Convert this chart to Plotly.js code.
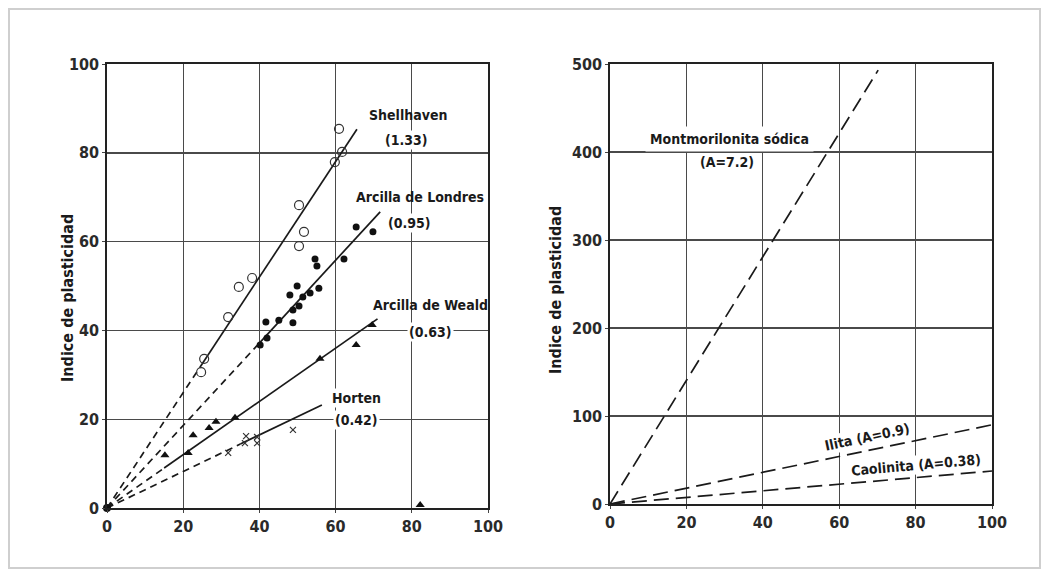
<!DOCTYPE html>
<html>
<head>
<meta charset="utf-8">
<script src="https://cdn.plot.ly/plotly-3.0.1.min.js"></script>
<style>html,body{margin:0;padding:0;background:#fff;}#chart{width:1049px;height:572px;}</style>
</head>
<body>
<div id="chart"></div>
<script>
// ---- Left panel data (fracción arcillosa %, índice de plasticidad) ----
const shellX = [60.9, 61.7, 59.8, 50.4, 51.7, 50.4, 38.1, 34.6, 31.8, 25.5, 24.7];
const shellY = [85.4, 80.2, 77.9, 68.2, 62.2, 59.0, 51.8, 49.8, 43.0, 33.6, 30.6];
const londX = [65.4, 69.8, 62.2, 54.6, 55.1, 49.9, 55.6, 48.0, 53.3, 51.4, 50.4, 48.8, 45.1, 41.7, 48.8, 42.0, 40.2];
const londY = [63.3, 62.2, 56.1, 56.1, 54.5, 50.0, 49.5, 48.0, 48.4, 47.5, 45.5, 44.6, 42.3, 41.9, 41.7, 38.3, 36.7];
const wealdX = [69.6, 65.4, 55.9, 33.6, 28.6, 26.8, 22.6, 21.3, 15.2, 82.2];
const wealdY = [41.2, 36.7, 33.6, 20.3, 19.4, 18.0, 16.4, 12.4, 11.9, 0.7];
const hortX = [48.8, 36.5, 39.4, 36.2, 39.4, 31.8];
const hortY = [17.6, 16.2, 16.0, 14.6, 14.6, 12.4];
const originX = [0];
const originY = [0];

// line segments (dashed part from origin, solid part through data)
const shellDashX = [0, 24.4], shellDashY = [0, 31.7];
const shellSolX = [24.4, 65.6], shellSolY = [31.7, 85.3];
const londDashX = [0, 39.5], londDashY = [0, 36.7];
const londSolX = [39.5, 71.7], londSolY = [36.7, 66.7];
const wealdDashX = [0, 15], wealdDashY = [0, 9.0];
const wealdSolX = [15, 71], wealdSolY = [9.0, 42.6];
const hortDashX = [0, 35], hortDashY = [0, 14.4];
const hortSolX = [35, 56.4], hortSolY = [14.4, 23.2];

// ---- Right panel lines ----
const montX = [0, 70.2], montY = [0, 493];
const iliX = [0, 100], iliY = [0, 90];
const caoX = [0, 100], caoY = [0, 37.5];

const xTicks = [0, 20, 40, 60, 80, 100];
const yTicksL = [0, 20, 40, 60, 80, 100];
const yTicksR = [0, 100, 200, 300, 400, 500];

const LC = '#1a1a1a';
const FONT = 'DejaVu Sans Condensed, Liberation Sans Narrow, Liberation Sans, sans-serif';

function seg(x, y, dash, xa, ya) {
  return {x: x, y: y, type: 'scatter', mode: 'lines', xaxis: xa, yaxis: ya,
    line: {color: LC, width: 1.7, dash: dash}, hoverinfo: 'skip', showlegend: false};
}
const dashL = '7px,5px';
const dashR = '15px,7px';

const traces = [
  seg(shellDashX, shellDashY, dashL, 'x', 'y'),
  seg(shellSolX, shellSolY, 'solid', 'x', 'y'),
  seg(londDashX, londDashY, dashL, 'x', 'y'),
  seg(londSolX, londSolY, 'solid', 'x', 'y'),
  seg(wealdDashX, wealdDashY, dashL, 'x', 'y'),
  seg(wealdSolX, wealdSolY, 'solid', 'x', 'y'),
  seg(hortDashX, hortDashY, dashL, 'x', 'y'),
  seg(hortSolX, hortSolY, 'solid', 'x', 'y'),
  {x: shellX, y: shellY, type: 'scatter', mode: 'markers', xaxis: 'x', yaxis: 'y', showlegend: false,
    marker: {symbol: 'circle-open', size: 9, color: '#333', line: {width: 1.2, color: '#333'}}},
  {x: londX, y: londY, type: 'scatter', mode: 'markers', xaxis: 'x', yaxis: 'y', showlegend: false,
    marker: {symbol: 'circle', size: 7, color: '#111'}},
  {x: wealdX, y: wealdY, type: 'scatter', mode: 'markers', xaxis: 'x', yaxis: 'y', showlegend: false,
    marker: {symbol: 'triangle-up', size: 8, color: '#111'}},
  {x: hortX, y: hortY, type: 'scatter', mode: 'markers', xaxis: 'x', yaxis: 'y', showlegend: false,
    marker: {symbol: 'x-thin', size: 6, color: '#333', line: {width: 1.2, color: '#333'}}},
  {x: originX, y: originY, type: 'scatter', mode: 'markers', xaxis: 'x', yaxis: 'y', showlegend: false, cliponaxis: false,
    marker: {symbol: 'circle', size: 8, color: '#111'}},
  seg(montX, montY, dashR, 'x2', 'y2'),
  seg(iliX, iliY, dashR, 'x2', 'y2'),
  seg(caoX, caoY, dashR, 'x2', 'y2')
];

const W = 1049, H = 572;
const px = v => v / W, py = v => 1 - v / H;

function axisBase(ticks) {
  return {
    tickmode: 'array', tickvals: ticks, ticktext: ticks.map(String),
    showgrid: true, gridcolor: '#4a4a4a', gridwidth: 1.4,
    zeroline: false, showline: true, linecolor: '#222', linewidth: 1.8, mirror: true,
    ticks: 'outside', ticklen: 3, tickcolor: '#444',
    tickfont: {family: FONT, size: 16, color: '#2a2a2a', weight: 'bold'},
    fixedrange: true
  };
}

const layout = {
  width: W, height: H,
  margin: {l: 0, r: 0, t: 0, b: 0},
  paper_bgcolor: '#ffffff', plot_bgcolor: '#ffffff',
  showlegend: false,
  xaxis: Object.assign(axisBase(xTicks), {domain: [px(107), px(488)], range: [0, 100], anchor: 'y'}),
  yaxis: Object.assign(axisBase(yTicksL), {domain: [py(508), py(64)], range: [0, 100], anchor: 'x'}),
  xaxis2: Object.assign(axisBase(xTicks), {domain: [px(610), px(992)], range: [0, 100], anchor: 'y2'}),
  yaxis2: Object.assign(axisBase(yTicksR), {domain: [py(504), py(64)], range: [0, 500], anchor: 'x2'}),
  shapes: [
    {type: 'rect', xref: 'paper', yref: 'paper', x0: px(9), x1: px(1040), y0: py(568), y1: py(9),
      line: {color: '#cfcfcf', width: 2}, fillcolor: 'rgba(0,0,0,0)', layer: 'below'}
  ],
  annotations: []
};

function lab(text, x, y, xa, ya, opts) {
  return Object.assign({text: text, x: x, y: y, xref: xa, yref: ya, showarrow: false,
    xanchor: 'center', yanchor: 'middle',
    font: {family: FONT, size: 14, color: '#1a1a1a', weight: 'bold'}}, opts || {});
}

layout.annotations.push(
  lab('Shellhaven', 79, 88.5, 'x', 'y'),
  lab('(1.33)', 78.7, 82.9, 'x', 'y', {bgcolor: '#ffffff'}),
  lab('Arcilla de Londres', 82.2, 70.0, 'x', 'y'),
  lab('(0.95)', 79.5, 64.2, 'x', 'y', {bgcolor: '#ffffff'}),
  lab('Arcilla de Weald', 84.8, 45.7, 'x', 'y'),
  lab('(0.63)', 84.8, 39.6, 'x', 'y', {bgcolor: '#ffffff'}),
  lab('Horten', 65.6, 24.8, 'x', 'y', {bgcolor: '#ffffff'}),
  lab('(0.42)', 65.6, 19.8, 'x', 'y', {bgcolor: '#ffffff'}),
  lab('Montmorilonita sódica', 31.2, 414.8, 'x2', 'y2', {bgcolor: '#ffffff', borderpad: 4}),
  lab('(A=7.2)', 30.6, 388.6, 'x2', 'y2'),
  lab('Ilita (A=0.9)', 67.3, 76, 'x2', 'y2', {textangle: -12, bgcolor: '#ffffff'}),
  lab('Caolinita (A=0.38)', 80.1, 44.3, 'x2', 'y2', {textangle: -5, bgcolor: '#ffffff'}),
  {text: 'Indice de plasticidad', xref: 'paper', yref: 'paper', x: px(67), y: py(298), showarrow: false,
    textangle: -90, xanchor: 'center', yanchor: 'middle',
    font: {family: FONT, size: 16, color: '#1a1a1a', weight: 'bold'}},
  {text: 'Indice de plasticidad', xref: 'paper', yref: 'paper', x: px(555), y: py(290), showarrow: false,
    textangle: -90, xanchor: 'center', yanchor: 'middle',
    font: {family: FONT, size: 16, color: '#1a1a1a', weight: 'bold'}}
);

Plotly.newPlot('chart', traces, layout, {displayModeBar: false, staticPlot: true});
</script>
</body>
</html>
